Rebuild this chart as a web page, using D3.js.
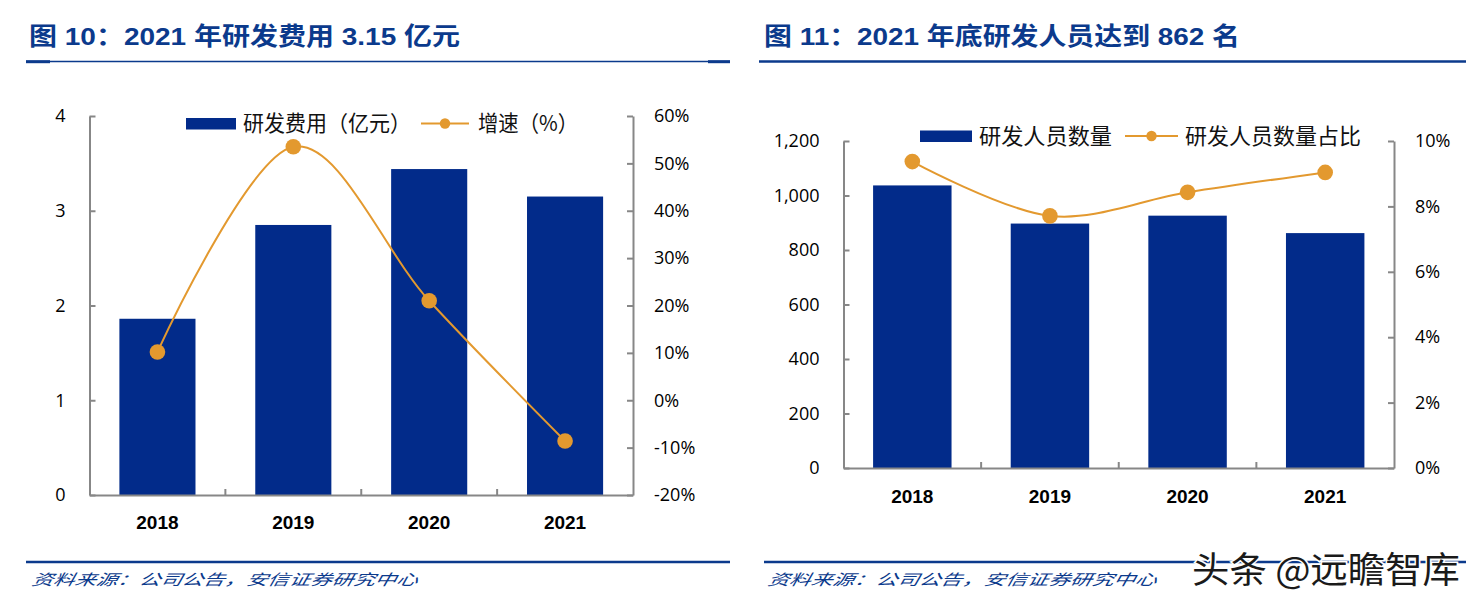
<!DOCTYPE html>
<html><head><meta charset="utf-8">
<script src="https://cdn.jsdelivr.net/npm/d3@7"></script>
<style>body{margin:0;background:#fff}svg{display:block}</style>
</head><body><svg id="c" width="1480" height="609"></svg>
<script>
// ---------- data ----------
const years = ["2018", "2019", "2020", "2021"];
const rdExpense = [1.86, 2.85, 3.44, 3.15];          // 亿元
const rdGrowth = [10.2, 53.5, 21.0, -8.6];           // %
const rdStaff = [1037, 897, 926, 862];               // 人
const rdStaffRatio = [9.37, 7.71, 8.43, 9.04];       // %
const expTicks = [0, 1, 2, 3, 4];
const expTickLabels = ["0", "1", "2", "3", "4"];
const growthTicks = [-20, -10, 0, 10, 20, 30, 40, 50, 60];
const growthTickLabels = ["-20%", "-10%", "0%", "10%", "20%", "30%", "40%", "50%", "60%"];
const staffTicks = [0, 200, 400, 600, 800, 1000, 1200];
const staffTickLabels = ["0", "200", "400", "600", "800", "1,000", "1,200"];
const ratioTicks = [0, 2, 4, 6, 8, 10];
const ratioTickLabels = ["0%", "2%", "4%", "6%", "8%", "10%"];
const titles = ["图 10：2021 年研发费用 3.15 亿元", "图 11：2021 年底研发人员达到 862 名"];
const legend1 = ["研发费用（亿元）", "增速（%）"];
const legend2 = ["研发人员数量", "研发人员数量占比"];
const sourceText = "资料来源：公司公告，安信证券研究中心";
const watermark = "头条 @远瞻智库";

// ---------- style ----------
const BAR = "#022B8A", LINE = "#E3992F", AXIS = "#878787", BLUE = "#0B3A8C";
const NUM_FONT = "'Open Sans','Noto Sans',sans-serif";
const CJK_FONT = "'Noto Sans CJK SC','Noto Sans',sans-serif";

const svg = d3.select("#c");
svg.append("rect").attr("width", 1480).attr("height", 609).attr("fill", "#fff");

// ---------- titles & rules ----------
const titleCfg = [{x: 29, len: 431}, {x: 764, len: 476}];
titles.forEach((t, i) => {
  svg.append("text").attr("x", titleCfg[i].x).attr("y", 45)
    .attr("font-family", "'Liberation Sans'," + CJK_FONT).attr("font-weight", "bold")
    .attr("font-size", 24.5).attr("fill", BLUE)
    .attr("textLength", titleCfg[i].len).attr("lengthAdjust", "spacingAndGlyphs")
    .text(t);
});
// left title rule (thin with thick ends)
svg.append("line").attr("x1", 26).attr("x2", 730).attr("y1", 61.5).attr("y2", 61.5)
  .attr("stroke", BLUE).attr("stroke-width", 1.6);
[[26, 50], [708, 730]].forEach(([a, b]) => svg.append("rect").attr("x", a).attr("y", 60.2)
  .attr("width", b - a).attr("height", 3).attr("fill", BLUE));
// right title rule
svg.append("line").attr("x1", 759).attr("x2", 1466).attr("y1", 61.5).attr("y2", 61.5)
  .attr("stroke", BLUE).attr("stroke-width", 2.6);

// footer rules + source
[[26, 730], [764, 1466]].forEach(([a, b]) => svg.append("line").attr("x1", a).attr("x2", b)
  .attr("y1", 562).attr("y2", 562).attr("stroke", BLUE).attr("stroke-width", 2.6));
[{x: 31, len: 386}, {x: 767, len: 389}].forEach(c => {
  svg.append("text").attr("x", c.x).attr("y", 585)
    .attr("font-family", CJK_FONT).attr("font-style", "italic").attr("font-size", 15)
    .attr("fill", BLUE).attr("transform", `skewX(-12) translate(${585 * Math.tan(12 * Math.PI / 180)},0)`)
    .attr("textLength", c.len).attr("lengthAdjust", "spacingAndGlyphs")
    .text(sourceText);
});

// ---------- panel ----------
function drawPanel(cfg) {
  const g = svg.append("g");
  const x = d3.scaleBand().domain(years).range([cfg.left, cfg.right]).padding(0);
  const yL = d3.scaleLinear().domain(cfg.lDomain).range([cfg.bottom, cfg.top]);
  const yR = d3.scaleLinear().domain(cfg.rDomain).range([cfg.bottom, cfg.top]);
  const bw = x.bandwidth() * cfg.barFrac;
  const cx = (d) => x(d) + x.bandwidth() / 2;

  g.selectAll("rect.bar").data(cfg.bars).join("rect").attr("class", "bar")
    .attr("x", (d, i) => cx(years[i]) - bw / 2).attr("y", d => yL(d))
    .attr("width", bw).attr("height", d => yL(cfg.lDomain[0]) - yL(d)).attr("fill", BAR);

  const styleAxis = (sel) => {
    sel.select(".domain").attr("stroke", AXIS).attr("stroke-width", 2);
    sel.selectAll(".tick line").attr("stroke", AXIS).attr("stroke-width", 2);
    sel.selectAll(".tick text").attr("font-family", NUM_FONT).attr("font-size", 18).attr("fill", "#000");
  };
  const axL = d3.axisLeft(yL).tickValues(cfg.lTicks)
    .tickFormat(d => cfg.lLabels[cfg.lTicks.indexOf(d)])
    .tickSizeInner(-6).tickSizeOuter(0).tickPadding(cfg.lPad);
  g.append("g").attr("transform", `translate(${cfg.left},0)`).call(axL).call(styleAxis);
  const axR = d3.axisRight(yR).tickValues(cfg.rTicks)
    .tickFormat(d => cfg.rLabels[cfg.rTicks.indexOf(d)])
    .tickSizeInner(-6).tickSizeOuter(0).tickPadding(cfg.rPad);
  g.append("g").attr("transform", `translate(${cfg.right},0)`).call(axR).call(styleAxis);
  const axB = d3.axisBottom(x).tickSize(0).tickPadding(cfg.bPad);
  const gb = g.append("g").attr("transform", `translate(0,${cfg.bottom})`).call(axB).call(styleAxis);
  gb.selectAll(".tick text").attr("font-family", "'Liberation Sans',sans-serif")
    .attr("font-weight", "bold").attr("font-size", 19);
  g.selectAll("line.sep").data(years.slice(1)).join("line").attr("class", "sep")
    .attr("x1", d => x(d)).attr("x2", d => x(d))
    .attr("y1", cfg.bottom).attr("y2", cfg.bottom - 6)
    .attr("stroke", AXIS).attr("stroke-width", 2);

  const line = d3.line().x((d, i) => cx(years[i])).y(d => yR(d)).curve(d3.curveCardinal.tension(0));
  g.append("path").datum(cfg.line).attr("d", line).attr("fill", "none")
    .attr("stroke", LINE).attr("stroke-width", 2);
  g.selectAll("circle.pt").data(cfg.line).join("circle").attr("class", "pt")
    .attr("cx", (d, i) => cx(years[i])).attr("cy", d => yR(d)).attr("r", 7.8).attr("fill", LINE);

  // legend
  const L = cfg.legend;
  g.append("rect").attr("x", L.rect[0]).attr("y", L.y - 5.5).attr("width", L.rect[1] - L.rect[0])
    .attr("height", 11.5).attr("fill", BAR);
  g.append("line").attr("x1", L.line[0]).attr("x2", L.line[1]).attr("y1", L.y).attr("y2", L.y)
    .attr("stroke", LINE).attr("stroke-width", 2);
  g.append("circle").attr("cx", (L.line[0] + L.line[1]) / 2).attr("cy", L.y).attr("r", 5.2).attr("fill", LINE);
  L.texts.forEach((t, i) => {
    g.append("text").attr("x", L.tx[i][0]).attr("y", L.y).attr("dy", "0.36em")
      .attr("font-family", CJK_FONT).attr("font-size", 22).attr("fill", "#111")
      .attr("textLength", L.tx[i][1]).attr("lengthAdjust", "spacingAndGlyphs").text(t);
  });
}

drawPanel({
  left: 89.5, right: 633, top: 116, bottom: 495, barFrac: 0.56,
  bars: rdExpense, line: rdGrowth,
  lDomain: [0, 4], rDomain: [-20, 60],
  lTicks: expTicks, lLabels: expTickLabels, rTicks: growthTicks, rLabels: growthTickLabels,
  lPad: 24, rPad: 21, bPad: 21,
  legend: {y: 123.5, rect: [186, 236], line: [421, 469], texts: legend1, tx: [[243, 168], [478, 100]]}
});
drawPanel({
  left: 843.5, right: 1394, top: 141, bottom: 468, barFrac: 0.57,
  bars: rdStaff, line: rdStaffRatio,
  lDomain: [0, 1200], rDomain: [0, 10],
  lTicks: staffTicks, lLabels: staffTickLabels, rTicks: ratioTicks, rLabels: ratioTickLabels,
  lPad: 24, rPad: 21, bPad: 22,
  legend: {y: 136, rect: [920, 972], line: [1125, 1178], texts: legend2, tx: [[979, 133], [1185, 176]]}
});

// watermark
svg.append("text").attr("x", 1192).attr("y", 583)
  .attr("font-family", CJK_FONT).attr("font-size", 36).attr("fill", "#1a1a1a")
  .attr("stroke", "#fff").attr("stroke-width", 3).attr("paint-order", "stroke")
  .attr("textLength", 268).attr("lengthAdjust", "spacingAndGlyphs")
  .text(watermark);
</script></body></html>
